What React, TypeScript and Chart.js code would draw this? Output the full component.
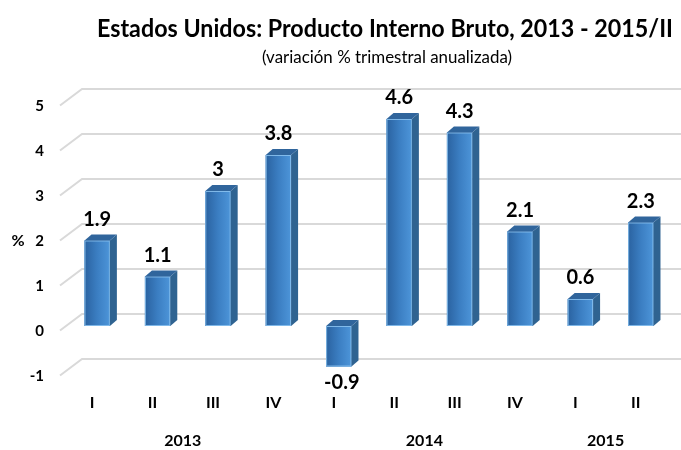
import React, { useEffect, useRef } from 'react';
import { Chart, registerables } from 'chart.js';

Chart.register(...registerables);

// ---- data ----
const quarters = ['I', 'II', 'III', 'IV', 'I', 'II', 'III', 'IV', 'I', 'II'];
const gdpGrowth = [1.9, 1.1, 3, 3.8, -0.9, 4.6, 4.3, 2.1, 0.6, 2.3];
const years = ['2013', '2014', '2015'];
const quartersPerYear = [4, 4, 2];
const yMin = -1;
const yMax = 5;
const yStep = 1;
const titleText = 'Estados Unidos: Producto Interno Bruto, 2013 - 2015/II';
const subtitleText = '(variación % trimestral anualizada)';
const yUnit = '%';

const FONT = 'Lato, "Open Sans", "DejaVu Sans", sans-serif';
const DX = 7;
const DY = 6;

const threeD = {
  id: 'threeD',
  beforeDatasetsDraw(chart: any) {
    const { ctx, chartArea, scales } = chart;
    const y = scales.y;
    ctx.save();
    ctx.strokeStyle = '#d9d9d9';
    ctx.lineWidth = 2;
    y.ticks.forEach((t: any) => {
      const py = y.getPixelForValue(t.value);
      ctx.beginPath();
      ctx.moveTo(chartArea.left - 7, py + 4.5);
      ctx.lineTo(chartArea.left + 15, py - 12);
      ctx.lineTo(chart.width, py - 12);
      ctx.stroke();
    });
    ctx.restore();
  },
  afterDatasetsDraw(chart: any) {
    const { ctx } = chart;
    const meta = chart.getDatasetMeta(0);
    const values = chart.data.datasets[0].data as number[];
    ctx.save();
    meta.data.forEach((el: any, i: number) => {
      const { x, y, base, width } = el.getProps(['x', 'y', 'base', 'width'], true);
      const l = x - width / 2;
      const r = x + width / 2;
      const t = Math.min(y, base);
      const b = Math.max(y, base);
      // front face
      const g = ctx.createLinearGradient(l, 0, r, 0);
      g.addColorStop(0, '#2a62a0');
      g.addColorStop(0.5, '#3b7ec2');
      g.addColorStop(1, '#4d95d9');
      ctx.fillStyle = g;
      ctx.fillRect(l, t, r - l, b - t);
      ctx.strokeStyle = 'rgba(140,195,240,0.85)';
      ctx.lineWidth = 1;
      ctx.strokeRect(l + 0.5, t + 0.5, r - l - 1, b - t - 1);
      // side face
      ctx.fillStyle = '#2f6391';
      ctx.beginPath();
      ctx.moveTo(r, t);
      ctx.lineTo(r + DX, t - DY);
      ctx.lineTo(r + DX, b - DY);
      ctx.lineTo(r, b);
      ctx.closePath();
      ctx.fill();
      // top face
      ctx.fillStyle = '#30659c';
      ctx.beginPath();
      ctx.moveTo(l, t);
      ctx.lineTo(l + DX, t - DY);
      ctx.lineTo(r + DX, t - DY);
      ctx.lineTo(r, t);
      ctx.closePath();
      ctx.fill();
      // value label
      const v = values[i];
      ctx.fillStyle = '#000';
      ctx.font = `bold 20px ${FONT}`;
      ctx.textAlign = 'center';
      ctx.textBaseline = 'middle';
      if (v >= 0) {
        ctx.fillText(String(v), x, t - 21);
      } else {
        ctx.fillText(String(v), x + 3, b + 16);
      }
    });
    ctx.restore();
  },
  afterDraw(chart: any) {
    const { ctx, scales } = chart;
    const xs = scales.x;
    ctx.save();
    ctx.fillStyle = '#000';
    ctx.textAlign = 'center';
    ctx.textBaseline = 'alphabetic';
    ctx.font = `bold 24px ${FONT}`;
    ctx.fillText(titleText, 385, 37, 576);
    ctx.font = `17px ${FONT}`;
    ctx.fillText(subtitleText, 387, 63, 250);
    // year labels
    ctx.font = `bold 16px ${FONT}`;
    ctx.textBaseline = 'middle';
    let start = 0;
    years.forEach((yr, k) => {
      const n = quartersPerYear[k];
      const x0 = xs.getPixelForValue(start);
      const x1 = xs.getPixelForValue(start + n - 1);
      ctx.fillText(yr, (x0 + x1) / 2 - 5, 441);
      start += n;
    });
    // unit label
    ctx.fillText(yUnit, 18, 241);
    ctx.restore();
  },
};

export default function App() {
  const ref = useRef<HTMLCanvasElement>(null);
  useEffect(() => {
    const chart = new Chart(ref.current!, {
      type: 'bar',
      data: {
        labels: quarters,
        datasets: [
          {
            data: gdpGrowth,
            backgroundColor: '#3b7ec2',
            borderWidth: 0,
            categoryPercentage: 1,
            barPercentage: 0.42,
          },
        ],
      },
      options: {
        responsive: false,
        animation: false,
        layout: { padding: { top: 101, right: 10, left: 0, bottom: 0 } },
        plugins: {
          legend: { display: false },
          tooltip: { enabled: false },
          title: { display: false },
        },
        scales: {
          x: {
            grid: { display: false, drawTicks: false },
            border: { display: false },
            ticks: {
              color: '#000',
              font: { family: FONT, weight: 'bold', size: 16 },
              padding: 22,
              labelOffset: -5,
              maxRotation: 0,
              autoSkip: false,
            },
            afterFit: (s: any) => {
              s.height = 79;
            },
          },
          y: {
            min: yMin,
            max: yMax,
            grid: { display: false, drawTicks: false },
            border: { display: false },
            ticks: {
              stepSize: yStep,
              color: '#000',
              font: { family: FONT, weight: 'bold', size: 15 },
              padding: 23,
              labelOffset: 5,
            },
            afterFit: (s: any) => {
              s.width = 67;
            },
          },
        },
      },
      plugins: [threeD],
    });
    return () => chart.destroy();
  }, []);
  return (
    <div style={{ position: 'absolute', left: 0, top: 0, width: 681, height: 450, background: '#fff' }}>
      <canvas ref={ref} width={681} height={450} style={{ display: 'block' }} />
    </div>
  );
}
